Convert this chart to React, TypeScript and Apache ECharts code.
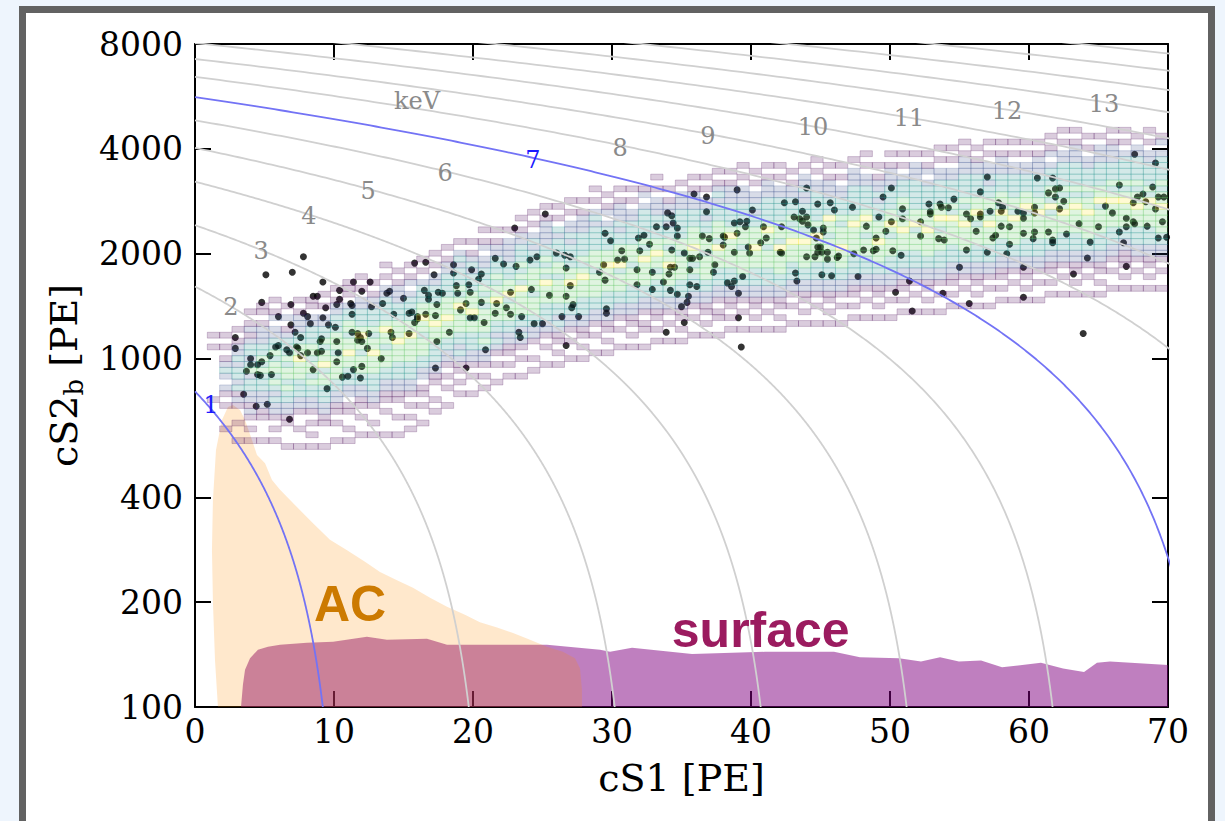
import { useEffect, useRef } from "react";
import * as echarts from "echarts";

// ---- axes ----
const CS1_MIN = 0;
const CS1_MAX = 70;
const CS2_MIN = 100;
const CS2_MAX = 8000;
const CS1_INTERVAL = 10;
const CS2_TICKS = [100, 200, 400, 1000, 2000, 4000, 8000];

// ---- energy scale (PE per keV in cS1 and cS2_b) ----
const CS1_PER_KEV = 10.5;
const CS2_PER_KEV = 805;
const GREY_ENERGIES = [2, 3, 4, 5, 6, 8, 9, 10, 11, 12, 13, 14, 15, 16];
const BLUE_ENERGIES = [1, 7];

// ---- contour labels ----
const CONTOUR_LABEL_TEXT = ["1", "2", "3", "4", "5", "6", "keV", "7", "8", "9", "10", "11", "12", "13"];
const CONTOUR_LABEL_CS1 = [1.15, 2.59, 4.75, 8.2, 12.45, 18.0, 15.97, 24.3, 30.58, 36.9, 44.46, 51.37, 58.42, 65.4];
const CONTOUR_LABEL_CS2 = [736, 1406, 2036, 2566, 3027, 3410, 5488, 3716, 4022, 4355, 4622, 4905, 5137, 5381];
const CONTOUR_LABEL_BLUE = [true, false, false, false, false, false, false, true, false, false, false, false, false, false];

// ---- accidental coincidence (AC) region outline ----
const AC_CS1 = [1.65, 1.44, 1.29, 1.22, 1.29, 1.51, 1.94, 2.37, 2.73, 3.24, 3.6, 4.1, 4.46, 5.04, 5.54, 6.12, 7.19, 8.49, 9.71, 10.94, 12.23, 13.31, 14.53, 15.68, 16.91, 18.13, 19.42, 20.5, 21.73, 22.88, 24.1, 25.32, 26.47, 27.34, 27.7, 27.84, 27.84];
const AC_CS2 = [100, 136, 200, 282, 393, 547, 666, 726, 736, 712, 666, 584, 529, 501, 448, 420, 380, 337, 302, 282, 261, 244, 231, 220, 206, 194, 184, 175, 169, 163, 156, 149, 144, 138, 129, 112, 100];

// ---- surface background region outline ----
const SURFACE_CS1 = [3.31, 3.45, 3.6, 3.96, 4.53, 5.25, 6.12, 8.06, 9.93, 12.37, 13.81, 16.69, 18.13, 25.32, 29.14, 29.86, 31.44, 35.76, 41.0, 45.97, 47.84, 50.65, 52.23, 53.6, 54.96, 56.55, 58.06, 60.86, 62.45, 63.96, 64.89, 65.83, 70, 70];
const SURFACE_CS2 = [100, 116, 128, 138, 146, 149, 151, 153, 154, 159, 156, 157, 151, 151, 146, 144, 148, 142, 144, 144, 139, 138, 135, 139, 135, 136, 130, 134, 129, 126, 134, 135, 132, 100];

// ---- region labels ----
const REGION_TEXT = ["AC", "surface"];
const REGION_CS1 = [11.15, 40.7];
const REGION_CS2 = [197, 166];

// ---- events [cS1, cS2_b] ----
const EVENTS: [number, number][] = [
  [7.8, 1960], [5.1, 1740], [7.0, 1770], [9.2, 1660], [11.4, 1660], [12.6, 1660], [12.0, 1560], [10.4, 1570],
  [8.5, 1510], [8.8, 1510], [4.8, 1450], [6.9, 1430], [10.4, 1480], [11.2, 1440], [9.4, 1400], [7.8, 1350],
  [6.0, 1320], [9.2, 1310], [11.3, 1340], [8.1, 1320], [8.3, 1260], [9.6, 1250], [10.1, 1230], [11.3, 1190],
  [6.9, 1250], [7.2, 1190], [7.6, 1150], [5.8, 1080], [6.0, 1090], [6.6, 1060], [6.8, 1040], [7.3, 1080],
  [7.4, 1070], [5.4, 1020], [4.0, 1000], [4.0, 960], [4.5, 960], [4.8, 980], [3.7, 920], [4.5, 900],
  [4.7, 895], [5.5, 900], [2.9, 1150], [2.9, 1070], [7.6, 1020], [8.1, 1040], [8.8, 1040], [9.1, 1050],
  [8.5, 930], [9.0, 1120], [9.1, 1140], [10.2, 1120], [10.3, 1040], [10.2, 980], [10.6, 885], [11.0, 890],
  [11.4, 930], [12.0, 950], [11.9, 880], [13.4, 1000], [12.4, 1070], [11.7, 1130], [11.9, 1150], [12.0, 1120],
  [12.5, 1180], [11.7, 1180], [14.2, 1150], [14.1, 1190], [13.5, 1440], [12.7, 1410], [11.3, 1420], [10.2, 1430],
  [14.3, 1340], [13.8, 1540], [14.0, 1560], [15.0, 1490], [16.5, 1570], [16.8, 1480], [16.8, 1520], [17.4, 1430],
  [17.3, 1330], [15.8, 1880], [16.6, 1890], [17.2, 1740], [15.4, 1350], [15.6, 1360], [16.0, 1300], [16.0, 1320],
  [15.8, 1270], [16.6, 1340], [15.4, 1180], [17.4, 1120], [18.3, 1190], [17.3, 940], [19.5, 940], [17.8, 1540],
  [17.5, 1550], [18.8, 1620], [18.9, 1540], [19.5, 1440], [19.8, 1550], [19.7, 1630], [19.1, 1380], [18.6, 1860],
  [18.6, 1760], [19.9, 1800], [20.6, 1750], [20.4, 1690], [20.6, 1450], [19.8, 1310], [20.1, 1310], [20.8, 1270],
  [20.9, 1060], [21.6, 1350], [21.6, 1940], [22.2, 1870], [23.1, 1840], [24.1, 1920], [24.6, 1960], [26.0, 2010],
  [26.6, 1980], [27.0, 1960], [26.7, 1820], [27.0, 1620], [26.7, 1510], [25.5, 1520], [24.2, 1580], [22.7, 1550],
  [21.7, 1440], [22.4, 1400], [22.7, 1340], [23.5, 1320], [24.4, 1260], [25.0, 1260], [23.3, 1190], [23.4, 1150],
  [26.4, 1320], [27.1, 1400], [27.6, 1320], [26.7, 1090], [27.2, 1430], [3.5, 790], [4.4, 730], [5.2, 740],
  [6.8, 670], [9.5, 820], [25.2, 2600], [23.0, 2370],
  [29.5, 2290], [29.9, 2180], [30.7, 2040], [30.4, 1920], [30.9, 1930], [29.4, 1860], [29.1, 1770], [29.5, 1680],
  [29.6, 1390], [29.6, 1350], [31.9, 2220], [32.3, 2260], [32.7, 2130], [32.0, 2040], [31.8, 1800], [31.8, 1630],
  [32.9, 1770], [32.9, 1580], [33.7, 1660], [34.1, 1750], [34.2, 1830], [34.5, 1830], [34.7, 1530], [34.2, 1570],
  [35.0, 1410], [35.4, 1450], [35.5, 1510], [35.2, 1270], [33.9, 1190], [33.2, 2390], [33.9, 2390], [34.3, 2050],
  [34.0, 2620], [34.3, 2570], [34.4, 2450], [34.7, 2370], [34.7, 2250], [35.2, 2010], [35.6, 1940], [35.8, 1940],
  [36.3, 1960], [35.6, 1800], [36.1, 1610], [35.6, 1630], [35.9, 2970], [36.8, 2910], [36.8, 2640], [36.5, 2250],
  [37.0, 2210], [36.9, 2020], [37.4, 1860], [37.3, 1770], [38.0, 2250], [38.1, 2230], [38.0, 2120], [38.3, 1650],
  [38.6, 1610], [38.8, 1670], [39.1, 1540], [39.1, 1310], [39.3, 1080], [39.0, 3050], [38.8, 2020], [39.0, 2290],
  [38.8, 2450], [39.2, 2470], [39.7, 2480], [39.6, 2390], [40.1, 2670], [39.8, 2090], [39.9, 2010], [39.4, 1720],
  [40.9, 2390], [41.1, 2220], [40.7, 2150], [42.2, 2390], [42.1, 2020], [42.2, 2010], [42.4, 2800], [43.2, 2820],
  [43.7, 2650], [43.1, 2550], [43.5, 2520], [44.0, 2550], [43.7, 2480], [44.1, 2420], [44.5, 2340], [44.7, 2220],
  [44.8, 2090], [45.0, 2090], [45.1, 2020], [44.8, 2020], [45.2, 2370], [45.2, 2310], [44.0, 1960], [44.6, 1960],
  [45.1, 1740], [44.0, 3090], [43.2, 1760], [43.3, 1670], [44.8, 2780], [45.7, 2800], [46.0, 2670], [45.5, 2020],
  [45.5, 1930], [45.8, 1730], [46.3, 1970], [46.2, 1950], [47.3, 2720], [47.4, 2000], [47.7, 1720], [48.1, 2050],
  [48.3, 2400], [48.8, 2040], [49.0, 2060], [49.0, 2220], [49.2, 2550], [49.5, 2910], [49.7, 2320], [50.1, 3090],
  [50.2, 2040], [50.1, 2470], [50.4, 1550], [50.9, 2690], [50.9, 2520], [50.8, 1980], [51.4, 1670], [51.6, 1370],
  [52.2, 2470], [52.2, 2250], [52.8, 2780], [52.9, 2640], [52.9, 2600], [53.6, 2780], [53.7, 2720], [54.2, 2710],
  [54.6, 2870], [53.5, 2210], [53.9, 2190], [55.0, 1830], [55.5, 2050], [55.5, 2600], [55.8, 2520], [56.5, 2600],
  [56.5, 2550], [56.2, 2320], [57.0, 3320], [56.5, 3010], [57.2, 2650], [57.0, 2020], [57.6, 2260], [57.4, 2220],
  [57.8, 2800], [53.8, 1540], [55.7, 1440],
  [67.6, 3860], [69.1, 3640], [66.5, 3150], [68.9, 3110], [68.2, 2970], [67.8, 2910], [67.5, 2800], [69.3, 2910],
  [69.7, 2910], [68.4, 2820], [65.5, 2740], [66.0, 2620], [67.0, 2530], [67.5, 2470], [67.6, 2440], [67.0, 2390],
  [66.5, 2310], [69.1, 2690], [69.6, 2470], [68.5, 2400], [65.0, 2390], [69.3, 2220], [69.9, 2230], [66.8, 2150],
  [67.0, 1840], [63.6, 2440], [62.7, 2280], [64.4, 2160], [64.2, 1945], [63.2, 1750], [63.9, 1180], [61.7, 3300],
  [60.6, 3300], [61.4, 2990], [61.9, 3070], [62.2, 3090], [61.9, 2910], [62.5, 2830], [62.2, 2690], [60.4, 2720],
  [60.4, 2620], [59.6, 2620], [59.6, 2530], [59.2, 2650], [61.4, 2310], [60.4, 2310], [59.6, 2290], [60.3, 2210],
  [61.7, 2190], [61.7, 2150], [59.6, 1830], [59.6, 1500], [58.1, 2720], [58.0, 2650], [58.0, 2400], [58.6, 2390],
  [58.6, 2130], [58.4, 2000],
];

// ---- 2D histogram of the calibration band ----
// cS1 bins: 79 equal bins over [0, 70]; cS2_b bins: 119 log bins per [100, 10000]
const HIST_CS1_BINS = 79;
const HIST_LOG_ROWS = 119;
// [cS1 bin index, first cS2 row, occupancy level per row from bottom ('.' = empty, 1..5)]
const HIST_COLUMNS: [number, number, string][] = [
  [1, 52, "1........1.1"],
  [2, 47, "1...1.12.2321.1.1"],
  [3, 45, "1..1..121323323221.1"],
  [4, 45, "1.1.12122332432332121.1"],
  [5, 45, "1...11222333434332221.11"],
  [6, 45, "1.1.1223234344343322.21.1"],
  [7, 44, "1...11223343443433321.2.1"],
  [8, 44, "1..1..122333444544332221.1"],
  [9, 44, "1.1.1.12233434434433322.11"],
  [10, 44, "1...1122333443544343322.1.1"],
  [11, 45, "1..1.11223344443444333221.1"],
  [12, 45, "1.1..11.2233344544344332.111"],
  [13, 46, "1..1.1122334443445433322.1.1"],
  [14, 46, "1.1..12233344454434333221.1"],
  [15, 46, "1...1.11223344434454333322.1.1"],
  [16, 46, "1..1..112233344454443332221.1"],
  [17, 47, "1.1.1.122333444454433332.21.1"],
  [18, 48, "1..1.11.22334443445443332.1.1"],
  [19, 50, "1.1..1122333444544433322.1.1"],
  [20, 51, "1..1.1.1223344454443333221.1"],
  [21, 53, "1.1.112323344445434333232.1"],
  [22, 53, "1..1.12233344354443332321.1"],
  [23, 54, "1.1.1223434444343433322.21.1"],
  [24, 55, "1..1.12323344454434333221.1"],
  [25, 56, "1.1.11223344435443332222.1"],
  [26, 56, "1..1.123233444453434333221.1"],
  [27, 57, "1.1..1223344434444333232.1.1"],
  [28, 58, "1..1.122333444534343322221.1"],
  [29, 58, "1.1.11232334444344333323.1.1"],
  [30, 59, "1..1.1223344454433332322.1.1"],
  [31, 59, "1.1.1122333444543433332221.1"],
  [32, 60, "1..1.12233444434443333232.1.1"],
  [33, 60, "1.1.1122333444454433332.21.1"],
  [34, 61, "1..1.122334443544433232221.1"],
  [35, 61, "1.1.11223334443444333322.1.1"],
  [36, 61, "1..11.1223344445434333332.21"],
  [37, 62, "1.1.112233343445443333222.1.1"],
  [38, 62, "1..1.12233444544343323221.1"],
  [39, 62, "1.1.1122333444434433333222.1"],
  [40, 63, "1..1.122333434454443332221.1"],
  [41, 63, "1.1.11223344443444332322.1.1"],
  [42, 63, "1..11.122333444534443332321.1"],
  [43, 64, "1.1.1122333444445433332221.1"],
  [44, 64, "1..1.12233444434443333222.1.1"],
  [45, 64, "1.1.11223334445444332322.1.1"],
  [46, 64, "1..1.1223334443445433332221.1"],
  [47, 64, "1.1.112233444453444333322.1.1"],
  [48, 65, "1..1.12233344454434333221.1"],
  [49, 65, "1.1.1122334444543443322322.1"],
  [50, 65, "1..1.12233344445343333322.1.1"],
  [51, 65, "1.1.1122333444434453332221.1"],
  [52, 65, "1..1.1223344454443433322.1.1"],
  [53, 66, "1.1.1122333444445433333222.1"],
  [54, 66, "1..1.12233344434454333322.1.1"],
  [55, 66, "1.1.112233444544433323221.1"],
  [56, 66, "1..1.1223334443454433332221.1"],
  [57, 67, "1.1.11223334445443443332.1.1"],
  [58, 67, "1..1.122333444354433333222.1"],
  [59, 67, "1.1.1122334444544433332.21.1"],
  [60, 67, "1..1.12233344434544333322.1.1"],
  [61, 68, "1.1.11223334444534333322.1.1"],
  [62, 68, "1..1.1223344445443433332221.1"],
  [63, 68, "1.1.1122333444345443333221.1"],
  [64, 68, "1..1.12233344454344332322.1.1"],
  [65, 69, "1.1.1122333444453443332221.1"],
  [66, 69, "1..1.1223344445344333322.1.1"],
  [67, 69, "1.1.11223334444354433322.1.1"],
  [68, 69, "1..1.122333444454433332221.1"],
  [69, 70, "1.1.1122334444353443332.21.1"],
  [70, 70, "1..1.12233344454434333322.1.1"],
  [71, 70, "1.1.11223334444543433332221.1"],
  [72, 70, "1..1.1223344445443433322.1.1"],
  [73, 70, "1.1.1122333444435443333222.1"],
  [74, 71, "1..1.122333444454343332221.1"],
  [75, 71, "1.1.11122334444543433332.1.1"],
  [76, 71, "1..1.12233344454434333322.1"],
  [77, 71, "1.1.11223334444534333322.1.1"],
  [78, 71, "1..1.1223344445443433332.21"],
];

const HIST_RGB = ["", "68,1,84", "59,82,139", "33,145,140", "94,201,98", "253,231,37"];

const lg = (v: number) => Math.log10(v);

function isoEnergyLine(energy: number): [number, number][] {
  const top = CS2_PER_KEV * energy;
  const pts: [number, number][] = [];
  const n = 600;
  for (let i = 0; i <= n; i++) {
    const logCs2 = lg(CS2_MIN) + (lg(top) - lg(CS2_MIN)) * (i / n);
    const cs2 = Math.pow(10, logCs2);
    const cs1 = CS1_PER_KEV * (energy - cs2 / CS2_PER_KEV);
    pts.push([cs1, logCs2]);
  }
  return pts;
}

function buildOption() {
  const serif = "DejaVu Serif";
  const cs1Bin = (CS1_MAX - CS1_MIN) / HIST_CS1_BINS;
  const rowDec = 2 / HIST_LOG_ROWS;

  const cells: number[][] = [];
  HIST_COLUMNS.forEach(([col, start, levels]) => {
    for (let j = 0; j < levels.length; j++) {
      const lvl = levels.charCodeAt(j) - 48;
      if (lvl < 1 || lvl > 5) continue;
      const r = start + j;
      cells.push([
        CS1_MIN + col * cs1Bin,
        CS1_MIN + (col + 1) * cs1Bin,
        lg(CS2_MIN) + r * rowDec,
        lg(CS2_MIN) + (r + 1) * rowDec,
        lvl,
      ]);
    }
  });

  const axisLine = { show: true, onZero: false, lineStyle: { color: "#000", width: 2 } };
  const tick = { show: true, inside: true, length: 16, lineStyle: { color: "#000", width: 2 } };
  const logTicks = CS2_TICKS.map(lg);

  const polygonSeries = (xs: number[], ys: number[], fill: string, z: number) => ({
    type: "custom",
    z,
    silent: true,
    clip: true,
    data: [[xs[0], lg(ys[0])]],
    renderItem: (_p: any, api: any) => ({
      type: "polygon",
      shape: { points: xs.map((x, i) => api.coord([x, lg(ys[i])])) },
      style: { fill },
    }),
  });

  const lineSeries = (energy: number, color: string) => ({
    type: "line",
    z: 5,
    silent: true,
    clip: true,
    symbol: "none",
    showSymbol: false,
    lineStyle: { color, width: 1.8 },
    data: isoEnergyLine(energy),
  });

  return {
    animation: false,
    backgroundColor: "transparent",
    grid: { left: 195, right: 57, top: 44, bottom: 114, containLabel: false },
    xAxis: [
      {
        type: "value",
        position: "bottom",
        min: CS1_MIN,
        max: CS1_MAX,
        interval: CS1_INTERVAL,
        axisLine,
        axisTick: tick,
        splitLine: { show: false },
        axisLabel: { fontFamily: serif, fontSize: 33, color: "#000", margin: 8 },
        name: "cS1 [PE]",
        nameLocation: "middle",
        nameGap: 52,
        nameTextStyle: { fontFamily: serif, fontSize: 38, color: "#000" },
      },
      {
        type: "value",
        position: "top",
        min: CS1_MIN,
        max: CS1_MAX,
        interval: CS1_INTERVAL,
        axisLine,
        axisTick: tick,
        splitLine: { show: false },
        axisLabel: { show: false },
      },
    ],
    yAxis: [
      {
        type: "value",
        position: "left",
        min: lg(CS2_MIN),
        max: lg(CS2_MAX),
        axisLine,
        axisTick: { ...tick, customValues: logTicks },
        splitLine: { show: false },
        axisLabel: {
          customValues: logTicks,
          formatter: (v: number) => String(Math.round(Math.pow(10, v))),
          fontFamily: serif,
          fontSize: 33,
          color: "#000",
          margin: 12,
        },
        name: "{m|cS2}{s|b}{m| [PE]}",
        nameLocation: "middle",
        nameRotate: 90,
        nameGap: 108,
        nameTextStyle: {
          color: "#000",
          rich: {
            m: { fontFamily: serif, fontSize: 38, lineHeight: 46, color: "#000" },
            s: { fontFamily: serif, fontSize: 26, lineHeight: 26, verticalAlign: "bottom", color: "#000" },
          },
        },
      },
      {
        type: "value",
        position: "right",
        min: lg(CS2_MIN),
        max: lg(CS2_MAX),
        axisLine,
        axisTick: { ...tick, customValues: logTicks },
        splitLine: { show: false },
        axisLabel: { show: false },
      },
    ],
    series: [
      polygonSeries(SURFACE_CS1, SURFACE_CS2, "rgba(128,0,128,0.5)", 1),
      polygonSeries(AC_CS1, AC_CS2, "rgba(255,140,0,0.2)", 2),
      {
        type: "scatter",
        z: 3,
        silent: true,
        symbol: "circle",
        symbolSize: 7,
        itemStyle: { color: "#000" },
        data: EVENTS.map(([x, y]) => [x, lg(y)]),
      },
      {
        type: "custom",
        z: 4,
        silent: true,
        clip: true,
        data: cells,
        renderItem: (_p: any, api: any) => {
          const a = api.coord([api.value(0), api.value(2)]);
          const b = api.coord([api.value(1), api.value(3)]);
          const rgb = HIST_RGB[api.value(4)];
          return {
            type: "rect",
            shape: { x: a[0], y: b[1], width: b[0] - a[0], height: a[1] - b[1] },
            style: { fill: `rgba(${rgb},0.2)`, stroke: `rgba(${rgb},0.28)`, lineWidth: 0.8 },
          };
        },
      },
      ...GREY_ENERGIES.map((e) => lineSeries(e, "#d0d0d0")),
      ...BLUE_ENERGIES.map((e) => lineSeries(e, "#7373f5")),
      {
        type: "custom",
        z: 6,
        silent: true,
        clip: false,
        data: CONTOUR_LABEL_TEXT.map((_t, i) => [CONTOUR_LABEL_CS1[i], lg(CONTOUR_LABEL_CS2[i]), i]),
        renderItem: (_p: any, api: any) => {
          const i = api.value(2);
          const p = api.coord([api.value(0), api.value(1)]);
          return {
            type: "text",
            x: p[0],
            y: p[1],
            style: {
              text: CONTOUR_LABEL_TEXT[i],
              fill: CONTOUR_LABEL_BLUE[i] ? "#1a1aff" : "#8a8a8a",
              font: `24px "${serif}"`,
              align: "center",
              verticalAlign: "middle",
            },
          };
        },
      },
      {
        type: "custom",
        z: 6,
        silent: true,
        clip: false,
        data: REGION_TEXT.map((_t, i) => [REGION_CS1[i], lg(REGION_CS2[i]), i]),
        renderItem: (_p: any, api: any) => {
          const i = api.value(2);
          const p = api.coord([api.value(0), api.value(1)]);
          return {
            type: "text",
            x: p[0],
            y: p[1],
            style: {
              text: REGION_TEXT[i],
              fill: i === 0 ? "#cc7a00" : "#9b1b5f",
              font: 'bold 50px "Liberation Sans"',
              align: "center",
              verticalAlign: "middle",
            },
          };
        },
      },
    ],
  };
}

export default function App() {
  const ref = useRef<HTMLDivElement>(null);
  useEffect(() => {
    if (!ref.current) return;
    const chart = echarts.init(ref.current, null, { renderer: "svg" });
    chart.setOption(buildOption() as any);
    return () => chart.dispose();
  }, []);
  return (
    <div style={{ position: "fixed", left: 0, top: 0, width: 1225, height: 821, background: "#eef5fd", overflow: "hidden" }}>
      <div
        style={{
          position: "absolute",
          left: 19,
          top: 6,
          width: 1196,
          height: 830,
          boxSizing: "border-box",
          border: "7px solid #626262",
          background: "#fff",
        }}
      />
      <div ref={ref} style={{ position: "absolute", left: 0, top: 0, width: 1225, height: 821 }} />
    </div>
  );
}
